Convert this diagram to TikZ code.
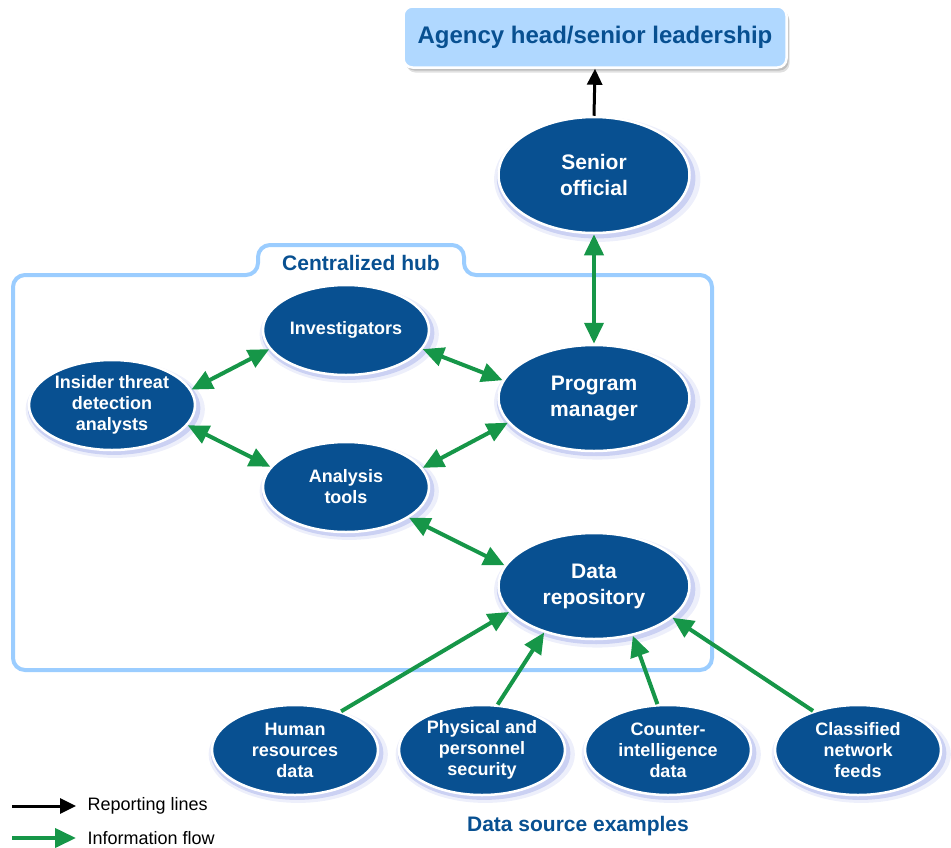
\documentclass[tikz,border=0pt]{standalone}
\usepackage{fontspec}
\setmainfont{Liberation Sans}
\usepackage{tikz}
\usetikzlibrary{positioning,shapes.geometric,arrows.meta,shadows}

\definecolor{hubnavy}{RGB}{8,80,145}
\definecolor{hubsky}{RGB}{176,216,255}
\definecolor{hubedge}{RGB}{155,205,255}
\definecolor{flowgreen}{RGB}{22,150,72}
\definecolor{glow}{RGB}{80,100,215}

\begin{document}
\begin{tikzpicture}[x=1pt,y=-1pt,
		glowing/.style={
			general shadow={shadow scale=1.08,shadow xshift=3pt,shadow yshift=-4pt,fill=#1,opacity=0.10},
			general shadow={shadow scale=1.04,shadow xshift=2pt,shadow yshift=-3pt,fill=#1,opacity=0.22}},
		oval/.style={ellipse,draw=white,line width=2.5pt,fill=hubnavy,text=white,inner sep=0pt,
			align=center,font=\bfseries\fontsize{18}{21}\selectfont,
			minimum width=166pt,minimum height=90pt,glowing=glow},
		bigoval/.style={oval,font=\bfseries\fontsize{21}{26}\selectfont,minimum width=191pt,minimum height=106pt},
		topbox/.style={rectangle,rounded corners=9pt,draw=white,line width=2.5pt,fill=hubsky,text=hubnavy,
			font=\bfseries\fontsize{24}{28}\selectfont,minimum width=383pt,minimum height=61pt,
			general shadow={shadow xshift=3pt,shadow yshift=-5pt,fill=black,opacity=0.12},
			general shadow={shadow xshift=2pt,shadow yshift=-3pt,fill=black,opacity=0.15}},
		heading/.style={text=hubnavy,font=\bfseries\fontsize{21}{25}\selectfont},
		legendtext/.style={anchor=west,font=\fontsize{18}{21}\selectfont},
		flow/.style={draw=flowgreen,line width=4pt,>={Triangle[length=21pt,width=19pt]}},
		report/.style={draw=black,line width=3pt,>={Triangle[length=16pt,width=15pt]}}]

	\useasboundingbox (0,0) rectangle (951,847);

	% the hub outline with its tab
	\draw[hubedge,line width=4pt,rounded corners=12pt]
		(13,670) -- (13,275) -- (258,275) -- (258,245) -- (464,245) -- (464,275)
		-- (712,275) -- (712,670) -- cycle;
	\node[heading] (hublabel) at (361,263) {Centralized hub};

	\node[topbox] (agency) at (595,37) {Agency head/senior leadership};
	\node[bigoval,minimum height=116pt] (senior) at (594,175) {Senior\\official};
	\node[bigoval] (manager) at (594,398) {Program\\manager};
	\node[bigoval] (repo) at (594,586) {Data\\repository};

	\node[oval] (investig) at (346,330) {Investigators};
	\node[oval] (tools) at (346,487) {Analysis\\tools};
	\node[oval] (analysts) at (112,405) {Insider threat\\detection\\analysts};

	\node[oval] (hr) at (295,750) {Human\\resources\\data};
	\node[oval] (physical) at (482,750) {Physical and\\personnel\\security};
	\node[oval] (counter) at (668,750) {Counter-\\intelligence\\data};
	\node[oval] (classified) at (858,750) {Classified\\network\\feeds};
	\node[heading] (sources) at (578,826) {Data source examples};

	% reporting and information flow
	\draw[report,->] (senior.north) -- (agency.south);
	\draw[flow,<->] (senior.south) -- (manager.north);
	\draw[flow,<->] (analysts.11) -- (investig.194);
	\draw[flow,<->] (analysts.-15) -- (tools.165);
	\draw[flow,<->] (investig.-14) -- (manager.169);
	\draw[flow,<->] (tools.14) -- (manager.196);
	\draw[flow,<->] (tools.-26) -- (repo.167);
	\draw[flow,->] (hr.40) -- (repo.197);
	\draw[flow,->] (physical.71) -- (repo.223);
	\draw[flow,->] (counter.103) -- (repo.308);
	\draw[flow,->] (classified.139) -- (repo.338);

	% legend
	\coordinate (rep0) at (12,806);
	\coordinate (rep1) at (76,806);
	\coordinate (inf0) at (12,838);
	\coordinate (inf1) at (76,838);
	\draw[report,->] (rep0) -- (rep1);
	\draw[flow,->] (inf0) -- (inf1);
	\node[legendtext] (replabel) at (84,806) {Reporting lines};
	\node[legendtext] (inflabel) at (84,838) {Information flow};
\end{tikzpicture}
\end{document}
